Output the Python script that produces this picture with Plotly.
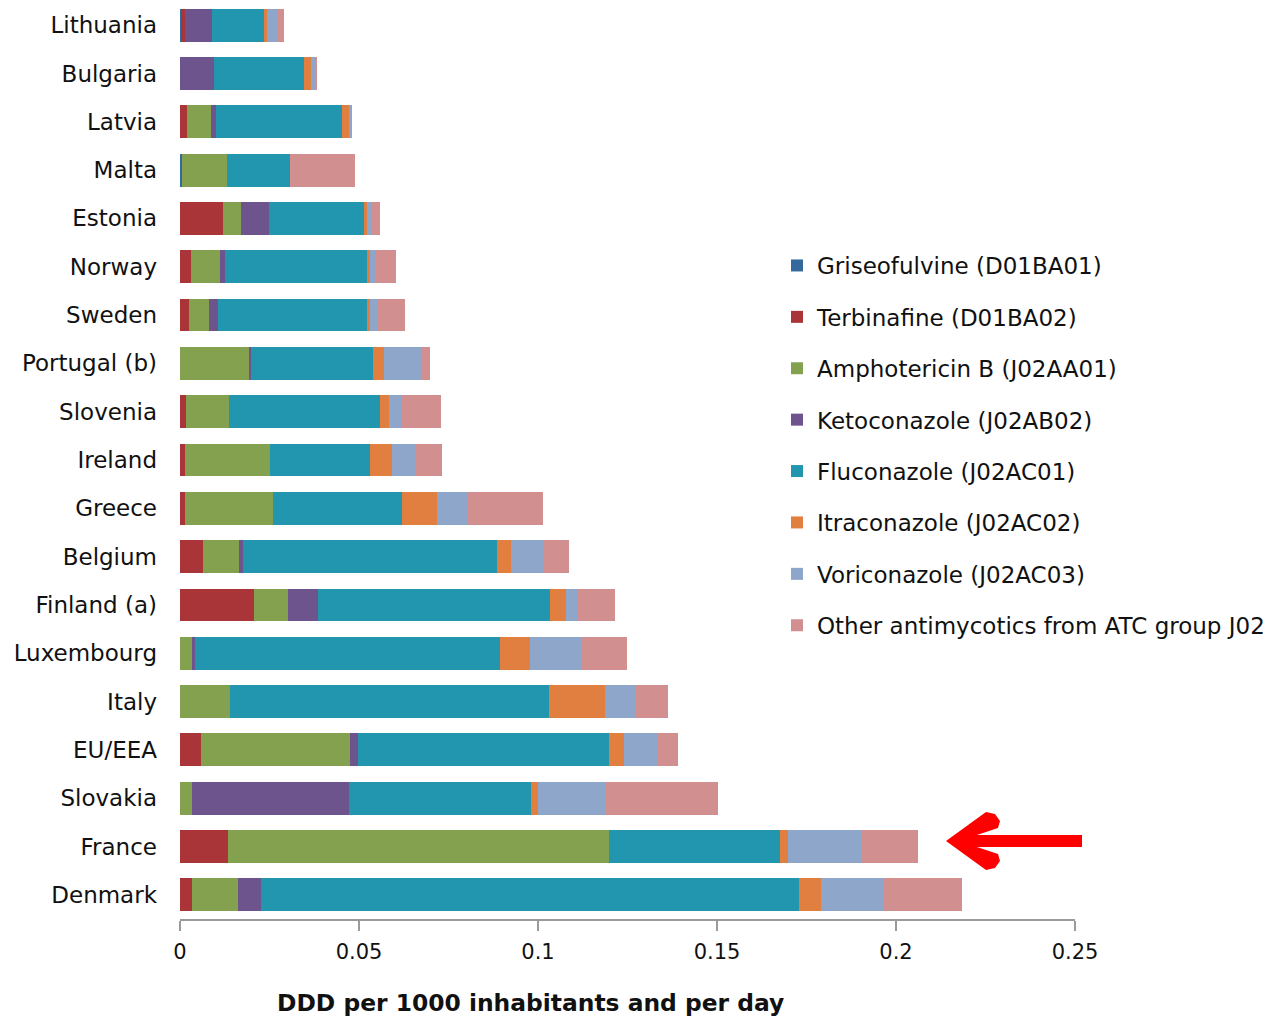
import plotly.graph_objects as go

countries = ["Lithuania", "Bulgaria", "Latvia", "Malta", "Estonia", "Norway", "Sweden",
             "Portugal (b)", "Slovenia", "Ireland", "Greece", "Belgium", "Finland (a)",
             "Luxembourg", "Italy", "EU/EEA", "Slovakia", "France", "Denmark"]

griseofulvine = [0.0003, 0, 0, 0.0006, 0, 0, 0, 0, 0, 0, 0, 0, 0, 0, 0, 0, 0, 0, 0]
terbinafine   = [0.0012, 0, 0.002, 0, 0.012, 0.003, 0.0025, 0, 0.0018, 0.0015, 0.0015, 0.0064,
                 0.0207, 0, 0, 0.0058, 0, 0.0134, 0.0034]
amphotericin  = [0, 0, 0.0067, 0.0126, 0.005, 0.0081, 0.0056, 0.0193, 0.012, 0.0235, 0.0246, 0.010,
                 0.0095, 0.0034, 0.014, 0.0416, 0.0034, 0.1064, 0.0128]
ketoconazole  = [0.0075, 0.0095, 0.0014, 0, 0.0078, 0.0014, 0.0025, 0.0006, 0, 0, 0, 0.0011,
                 0.0084, 0.0008, 0, 0.0022, 0.0438, 0, 0.0064]
fluconazole   = [0.0145, 0.0251, 0.0352, 0.0176, 0.0265, 0.0397, 0.0416, 0.0341, 0.0422, 0.0282,
                 0.0358, 0.071, 0.0648, 0.0852, 0.0891, 0.0701, 0.0508, 0.0478, 0.1503]
itraconazole  = [0.0008, 0.002, 0.002, 0, 0.0008, 0.0008, 0.0008, 0.0031, 0.0025, 0.0059,
                 0.0098, 0.0039, 0.0045, 0.0084, 0.0156, 0.0042, 0.002, 0.0022, 0.0061]
voriconazole  = [0.003, 0.001, 0.0008, 0, 0.0014, 0.0014, 0.002, 0.0106, 0.0034, 0.0067,
                 0.0084, 0.0089, 0.0034, 0.0142, 0.0087, 0.0092, 0.0187, 0.0204, 0.0176]
other_j02     = [0.0017, 0.0008, 0, 0.0182, 0.0025, 0.0059, 0.0078, 0.0022, 0.0109, 0.0075,
                 0.0212, 0.0073, 0.0103, 0.0128, 0.0089, 0.0061, 0.0316, 0.0159, 0.0218]

series_names = ["Griseofulvine (D01BA01)", "Terbinafine (D01BA02)", "Amphotericin B (J02AA01)",
                "Ketoconazole (J02AB02)", "Fluconazole (J02AC01)", "Itraconazole (J02AC02)",
                "Voriconazole (J02AC03)", "Other antimycotics from ATC group J02"]
series_values = [griseofulvine, terbinafine, amphotericin, ketoconazole, fluconazole,
                 itraconazole, voriconazole, other_j02]
colors = ["#34699E", "#AA3539", "#84A14F", "#6E548D", "#2296AF", "#E07F3F", "#8DA6CA", "#D18F90"]

x_ticks = [0, 0.05, 0.1, 0.15, 0.2, 0.25]
x_tick_labels = ["0", "0.05", "0.1", "0.15", "0.2", "0.25"]

FONT = "DejaVu Sans"

fig = go.Figure()
for i, (name, vals, col) in enumerate(zip(series_names, series_values, colors)):
    fig.add_trace(go.Bar(
        y=countries, x=vals, name=name, orientation="h",
        marker=dict(color=col, line=dict(width=0)),
        legendgroup=f"g{i}",
    ))

# figure is placed at (8, 8) in the page by the browser's default body margin
W, H = 1272, 1011
ML, MR, MT, MB = 172, 205, 0, 100
PW, PH = W - ML - MR, H - MT - MB
OFF = 8


def px(xw):
    # window pixel -> paper x
    return (xw - OFF - ML) / PW


def py(yw):
    # window pixel -> paper y
    return (H - MB - (yw - OFF)) / PH


arrow_pts = [(946, 841), (986, 812), (995, 814), (1000, 821), (998, 828), (977, 835),
             (1082, 835), (1082, 847), (977, 847), (998, 854), (1000, 861), (995, 868),
             (986, 870)]
path = "M " + " L ".join(f"{px(a):.5f},{py(b):.5f}" for a, b in arrow_pts) + " Z"

fig.update_layout(
    width=W, height=H,
    template="none",
    barmode="stack",
    bargap=0.32,
    paper_bgcolor="white",
    plot_bgcolor="white",
    margin=dict(l=ML, r=MR, t=MT, b=MB, autoexpand=False),
    font=dict(family=FONT, size=23, color="#111111"),
    showlegend=True,
    legend=dict(
        x=px(777), y=py(244), xanchor="left", yanchor="top",
        traceorder="grouped", tracegroupgap=18.5,
        font=dict(family=FONT, size=23, color="#111111"),
        bgcolor="rgba(0,0,0,0)", itemclick=False,
    ),
    xaxis=dict(
        range=[0, 0.25], tickvals=x_ticks, ticktext=x_tick_labels,
        showgrid=False, zeroline=False,
        showline=True, linecolor="#9a9a9a", linewidth=2,
        ticks="outside", ticklen=10, tickwidth=2, tickcolor="#9a9a9a",
        tickfont=dict(family=FONT, size=21, color="#111111"),
        ticklabelstandoff=3,
    ),
    yaxis=dict(
        range=[18.5, -0.355], showgrid=False, zeroline=False, showline=False,
        ticks="", tickfont=dict(family=FONT, size=23, color="#111111"),
        ticklabelstandoff=22,
    ),
    shapes=[dict(type="path", xref="paper", yref="paper", path=path,
                 fillcolor="#FF0000", line=dict(width=0))],
    annotations=[dict(
        text="<b>DDD per 1000 inhabitants and per day</b>",
        xref="paper", yref="paper", x=px(530), y=py(1003),
        xanchor="center", yanchor="middle", showarrow=False,
        font=dict(family=FONT, size=23.4, color="#111111"),
    )],
)

fig.write_html("out.html")
